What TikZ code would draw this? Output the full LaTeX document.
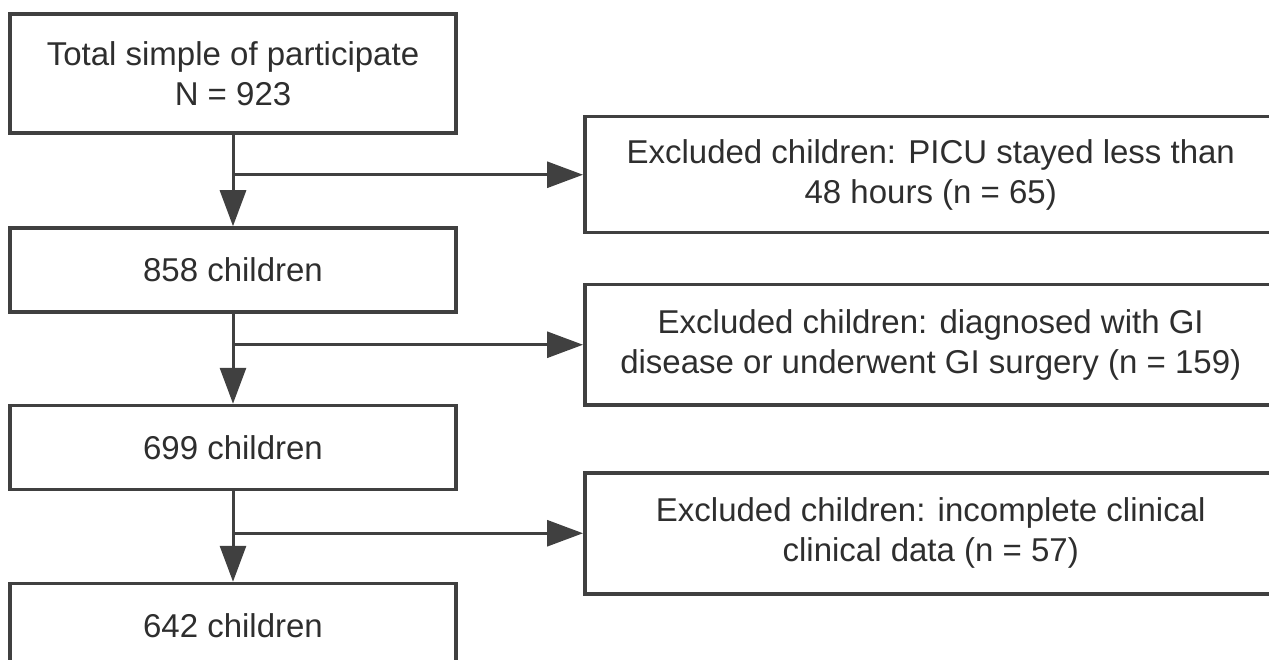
\documentclass[tikz,border=0pt]{standalone}
\usepackage{fontspec}
\setmainfont{Liberation Sans}
\usepackage{tikz}
\usetikzlibrary{positioning,arrows.meta}
\definecolor{flowgray}{HTML}{404040}
\definecolor{flowtext}{HTML}{2E2E2E}

\begin{document}
\begin{tikzpicture}[x=1pt, y=-1pt,
    stagebox/.style={draw=flowgray, line width=3.5pt, rectangle, align=center,
      minimum width=446pt, minimum height=84pt, inner sep=0pt, text=flowtext,
      font=\fontsize{33}{40}\selectfont},
    exclbox/.style={stagebox, minimum width=692pt, minimum height=116pt},
    flow/.style={draw=flowgray, line width=3pt, -{Triangle[length=36pt,width=26pt]}}]
                  \useasboundingbox (0,0) rectangle (1269,660);
                  \clip (0,0) rectangle (1269,660);
                  % Nodes for inclusion steps
                  \node [stagebox, minimum height=119pt] (total) at (233,73.5) {Total simple of participate\\N = 923};
                  \node [stagebox, below=91.5pt of total] (stage1) {858 children};
                  \node [stagebox, below=90pt of stage1] (stage2) {699 children};
                  \node [stagebox, below=90.5pt of stage2] (stage3) {642 children};

                  % Split points on the main line
                  \path (total.south) ++(0,40) coordinate (split1);
                  \path (stage1.south) ++(0,31) coordinate (split2);
                  \path (stage2.south) ++(0,42) coordinate (split3);

                  % Nodes for exclusions
                  \node [exclbox, right=350pt of split1] (excl1) {Excluded children: PICU stayed less than\\48 hours (n = 65)};
                  \node [exclbox, right=350pt of split2, minimum height=120pt] (excl2) {Excluded children: diagnosed with GI\\disease or underwent GI surgery (n = 159)};
                  \node [exclbox, right=350pt of split3, minimum height=121pt] (excl3) {Excluded children: incomplete clinical\\clinical data (n = 57)};

                  % Arrows for inclusion steps
                  \draw [flow] (total) -- (stage1);
                  \draw [flow] (stage1) -- (stage2);
                  \draw [flow] (stage2) -- (stage3);

                  % Arrows for exclusions
                  \draw [flow] (split1) -- (excl1);
                  \draw [flow] (split2) -- (excl2);
                  \draw [flow] (split3) -- (excl3);
              \end{tikzpicture}
\end{document}
